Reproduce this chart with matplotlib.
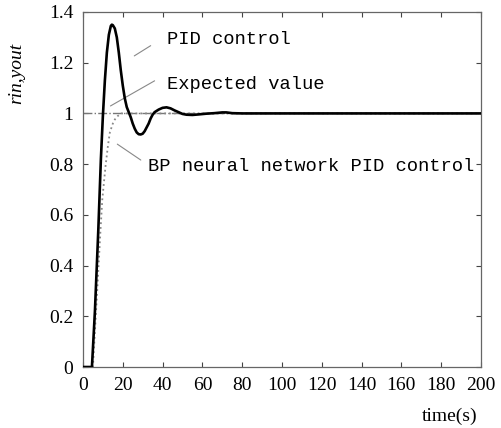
import numpy as np
import matplotlib.pyplot as plt

# PID control response
t_pid = [0, 4.5, 6, 7.7, 9, 10, 11, 12, 13, 14, 14.5, 15, 16, 17, 18, 19, 20, 21, 22, 23,
         24, 25, 26, 27, 28, 29, 30, 31, 32, 33, 34, 35, 36, 38, 40, 42, 44, 46, 48, 50,
         52, 55, 58, 62, 66, 70, 72, 75, 80, 200]
y_pid = [0, 0, 0.22, 0.54, 0.82, 0.99, 1.13, 1.24, 1.31, 1.345, 1.35, 1.348, 1.335, 1.30,
         1.24, 1.17, 1.11, 1.06, 1.025, 1.005, 0.985, 0.96, 0.94, 0.925, 0.918, 0.917,
         0.92, 0.93, 0.945, 0.96, 0.98, 0.995, 1.005, 1.015, 1.022, 1.024, 1.02, 1.012,
         1.005, 0.998, 0.995, 0.994, 0.996, 0.999, 1.001, 1.004, 1.004, 1.001, 1.0, 1.0]

# BP neural network PID control response
t_bp = [0, 5, 7, 8.8, 9.7, 11.3, 12.5, 13.5, 15, 16, 17.5, 19.3, 200]
y_bp = [0, 0, 0.28, 0.54, 0.66, 0.79, 0.87, 0.925, 0.96, 0.976, 0.99, 1.0, 1.0]

# expected value
t_ref = [0, 200]
y_ref = [1, 1]

xticks = [0, 20, 40, 60, 80, 100, 120, 140, 160, 180, 200]
yticks = [0, 0.2, 0.4, 0.6, 0.8, 1, 1.2, 1.4]
ytick_labels = ['0', '0.2', '0.4', '0.6', '0.8', '1', '1.2', '1.4']

serif = 'Liberation Serif'
mono = 'Liberation Mono'

fig = plt.figure(figsize=(5.02, 4.28), dpi=100)
ax = fig.add_axes([0.1653, 0.1425, 0.7928, 0.8295])

ax.plot(t_ref, y_ref, color='#777777', lw=1.0, ls='-.', zorder=2)
ax.plot(t_bp, y_bp, color='#888888', lw=1.3, ls=':', zorder=3)
ax.plot(t_pid, y_pid, color='black', lw=1.9, zorder=4)

ax.set_xlim(0, 200)
ax.set_ylim(0, 1.4)
ax.set_xticks(xticks)
ax.set_yticks(yticks)
ax.set_yticklabels(ytick_labels)
ax.tick_params(direction='in', length=3.5, width=0.8, top=True, right=True,
               labelsize=14, pad=7, color='#444444')
for lab in ax.get_xticklabels() + ax.get_yticklabels():
    lab.set_fontfamily(serif)
for s in ax.spines.values():
    s.set_color('#666666')
    s.set_linewidth(0.9)

ax.set_ylabel('rin,yout', fontfamily=serif, fontstyle='italic', fontsize=14)
ax.yaxis.set_label_coords(-0.145, 0.826)
ax.set_xlabel('time(s)', fontfamily=serif, fontsize=14, ha='right')
ax.xaxis.set_label_coords(0.992, -0.115)

# annotations
line_kw = dict(arrowstyle='-', color='#888888', lw=0.8)
ax.annotate('', xy=(24.6, 1.221), xytext=(35.2, 1.273), arrowprops=line_kw)
ax.text(42.2, 1.292, 'PID control', fontfamily=mono, fontsize=13.5, va='center')
ax.annotate('', xy=(12.6, 1.024), xytext=(37.2, 1.134), arrowprops=line_kw)
ax.text(42.2, 1.115, 'Expected value', fontfamily=mono, fontsize=13.5, va='center')
ax.annotate('', xy=(16.1, 0.885), xytext=(30.2, 0.81), arrowprops=line_kw)
ax.text(32.7, 0.79, 'BP neural network PID control', fontfamily=mono, fontsize=13.5,
        va='center')

fig.savefig('out.png', dpi=100)
